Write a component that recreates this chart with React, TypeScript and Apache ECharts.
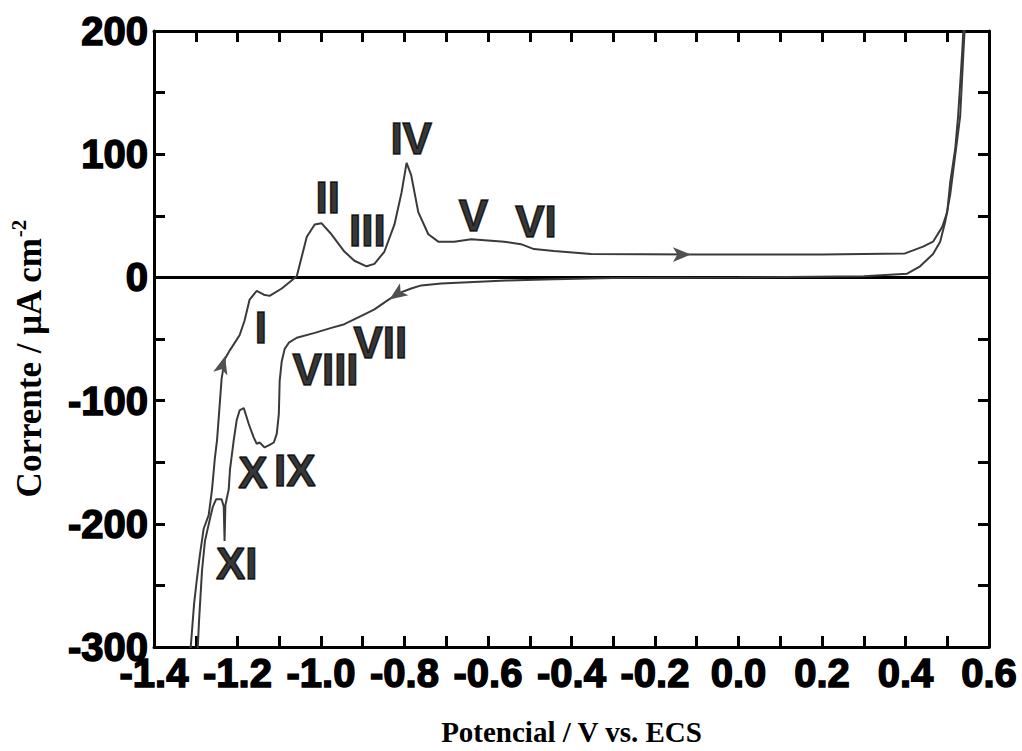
import React, { useEffect, useRef } from "react";
import * as echarts from "echarts";

// Potential axis (V vs. ECS) and current axis (µA cm⁻²) tick values
const potentialTicks = [-1.4, -1.2, -1.0, -0.8, -0.6, -0.4, -0.2, 0.0, 0.2, 0.4, 0.6];
const currentTicks = [-300, -200, -100, 0, 100, 200];

// Anodic sweep: from the cathodic limit up to the anodic limit
const anodicSweep: [number, number][] = [
  [-1.316, -310], [-1.312, -300], [-1.304, -265], [-1.297, -244], [-1.29, -225],
  [-1.281, -204], [-1.269, -193], [-1.261, -172], [-1.254, -146], [-1.249, -132],
  [-1.245, -114], [-1.238, -82], [-1.23, -66], [-1.218, -59], [-1.195, -47],
  [-1.183, -35], [-1.171, -18], [-1.154, -11], [-1.137, -14], [-1.123, -15],
  [-1.094, -9], [-1.058, 1], [-1.046, 17], [-1.034, 33], [-1.015, 43],
  [-0.999, 44], [-0.975, 35], [-0.944, 21], [-0.92, 13.5], [-0.891, 9],
  [-0.872, 11], [-0.848, 21], [-0.824, 43], [-0.807, 69], [-0.795, 93],
  [-0.784, 83], [-0.767, 53], [-0.743, 35], [-0.719, 29], [-0.681, 29],
  [-0.64, 31], [-0.6, 30], [-0.561, 29], [-0.521, 27], [-0.49, 23],
  [-0.442, 21.5], [-0.353, 19], [-0.1, 18.5], [0.2, 18.5], [0.399, 19.5],
  [0.442, 25], [0.466, 29], [0.488, 41], [0.5, 53], [0.507, 77],
  [0.519, 104], [0.526, 131], [0.531, 157], [0.536, 184], [0.54, 210],
];

// Cathodic (return) sweep: from the anodic limit back down
const cathodicSweep: [number, number][] = [
  [0.543, 210], [0.538, 178], [0.531, 131], [0.519, 99], [0.507, 67],
  [0.495, 45], [0.483, 29], [0.466, 19], [0.435, 9], [0.404, 3],
  [0.3, 1], [0.0, 0], [-0.3, -0.5], [-0.442, -1.5], [-0.557, -2.5],
  [-0.712, -5], [-0.76, -6.5], [-0.784, -9], [-0.815, -13], [-0.838, -18],
  [-0.872, -26], [-0.896, -30], [-0.944, -38], [-0.975, -41], [-1.015, -45],
  [-1.058, -49], [-1.077, -53], [-1.087, -58], [-1.094, -68], [-1.099, -84],
  [-1.101, -111], [-1.106, -127], [-1.113, -134], [-1.123, -136], [-1.135, -138],
  [-1.147, -134], [-1.154, -135], [-1.161, -130], [-1.173, -119], [-1.185, -106],
  [-1.195, -108], [-1.202, -116], [-1.209, -132], [-1.218, -156], [-1.221, -172],
  [-1.226, -180], [-1.229, -185], [-1.231, -214], [-1.233, -186], [-1.238, -180],
  [-1.251, -180], [-1.259, -186], [-1.266, -196], [-1.278, -214], [-1.285, -238],
  [-1.292, -278], [-1.295, -299], [-1.297, -310],
];

// Roman-numeral peak labels, anchored in data units
const peakLabels = [
  { name: "I", at: [-1.144, -41] },
  { name: "II", at: [-0.984, 65] },
  { name: "III", at: [-0.889, 38] },
  { name: "IV", at: [-0.784, 113] },
  { name: "V", at: [-0.635, 50] },
  { name: "VI", at: [-0.485, 45] },
  { name: "VII", at: [-0.858, -53] },
  { name: "VIII", at: [-0.989, -75] },
  { name: "IX", at: [-1.063, -157] },
  { name: "X", at: [-1.163, -158] },
  { name: "XI", at: [-1.202, -232] },
];

// Sweep-direction arrowheads
const anodicArrows = [
  { at: [-1.23, -64], rotate: -15 },
  { at: [-0.114, 18.5], rotate: -90 },
];
const cathodicArrows = [{ at: [-0.836, -18], rotate: 125 }];

const CURVE = "#3a3a3a";
const ARROW = "#505050";
const SERIF = "'Liberation Serif', 'Times New Roman', serif";
const SANS = "'Liberation Sans', Arial, sans-serif";

export default function App() {
  const ref = useRef<HTMLDivElement>(null);

  useEffect(() => {
    if (!ref.current) return;
    const chart = echarts.init(ref.current, undefined, { renderer: "svg" });

    const tickLabelFont = {
      fontFamily: SANS,
      fontWeight: "bold" as const,
      fontSize: 40,
      color: "#000",
      textBorderColor: "#000",
      textBorderWidth: 1.5,
    };
    // Closed frame: every side carries inward major and minor ticks
    const frameLine = () => ({ show: true, onZero: false, lineStyle: { color: "#000", width: 3 } });
    const ticks = () => ({ show: true, inside: true, length: 11, lineStyle: { color: "#000", width: 3 } });
    const minor = () => ({ show: true, splitNumber: 2, length: 11, lineStyle: { color: "#000", width: 3 } });

    const xAxisCommon = (position: "top" | "bottom") => ({
      type: "value" as const,
      position,
      min: potentialTicks[0],
      max: potentialTicks[potentialTicks.length - 1],
      interval: 0.2,
      axisLine: frameLine(),
      axisTick: ticks(),
      minorTick: minor(),
      splitLine: { show: false },
      minorSplitLine: { show: false },
    });
    const yAxisCommon = (position: "left" | "right") => ({
      type: "value" as const,
      position,
      min: currentTicks[0],
      max: currentTicks[currentTicks.length - 1],
      interval: 100,
      axisLine: frameLine(),
      axisTick: ticks(),
      minorTick: minor(),
      splitLine: { show: false },
      minorSplitLine: { show: false },
    });

    const arrowPoints = (list: { at: number[]; rotate: number }[]) =>
      list.map((a) => ({
        coord: a.at,
        symbol: "arrow",
        symbolSize: [11, 18],
        symbolRotate: a.rotate,
      }));

    chart.setOption({
      animation: false,
      backgroundColor: "#fff",
      grid: { left: 152, right: 33, top: 31, bottom: 91, containLabel: false },
      xAxis: [
        {
          ...xAxisCommon("bottom"),
          axisLabel: { ...tickLabelFont, margin: 6, formatter: (v: number) => v.toFixed(1) },
          name: "Potencial / V vs. ECS",
          nameLocation: "middle",
          nameGap: 70,
          nameTextStyle: { fontFamily: SERIF, fontWeight: "bold", fontSize: 29, color: "#000" },
        },
        { ...xAxisCommon("top"), axisLabel: { show: false } },
      ],
      yAxis: [
        {
          ...yAxisCommon("left"),
          axisLabel: { ...tickLabelFont, margin: 6, formatter: (v: number) => String(v) },
          name: "Corrente / μA cm{sup|-2}",
          nameLocation: "middle",
          nameGap: 104,
          nameTextStyle: {
            fontFamily: SERIF,
            fontWeight: "bold",
            fontSize: 35,
            color: "#000",
            lineHeight: 42,
            padding: [0, 40, 0, 0],
            rich: {
              sup: {
                fontFamily: SERIF,
                fontWeight: "bold",
                fontSize: 21,
                lineHeight: 21,
                verticalAlign: "top",
                color: "#000",
              },
            },
          },
        },
        { ...yAxisCommon("right"), axisLabel: { show: false } },
      ],
      series: [
        {
          type: "line",
          name: "anodic",
          data: anodicSweep,
          showSymbol: false,
          symbol: "none",
          lineStyle: { color: CURVE, width: 2 },
          z: 3,
          markLine: {
            silent: true,
            symbol: "none",
            label: { show: false },
            lineStyle: { color: "#000", width: 3, type: "solid" },
            data: [{ yAxis: 0 }],
            z: 2,
          },
          markPoint: {
            silent: true,
            label: { show: false },
            itemStyle: { color: ARROW },
            data: arrowPoints(anodicArrows),
          },
        },
        {
          type: "line",
          name: "cathodic",
          data: cathodicSweep,
          showSymbol: false,
          symbol: "none",
          lineStyle: { color: CURVE, width: 2 },
          z: 3,
          markPoint: {
            silent: true,
            label: { show: false },
            itemStyle: { color: ARROW },
            data: arrowPoints(cathodicArrows),
          },
        },
        {
          type: "scatter",
          name: "peaks",
          silent: true,
          symbolSize: 1,
          itemStyle: { color: "rgba(0,0,0,0)" },
          z: 5,
          data: peakLabels.map((p) => ({ name: p.name, value: p.at })),
          label: {
            show: true,
            position: "inside",
            formatter: "{b}",
            fontFamily: SANS,
            fontWeight: "bold",
            fontSize: 44,
            color: "#000",
            textBorderColor: "#000",
            textBorderWidth: 1.5,
          },
        },
      ],
    });

    return () => chart.dispose();
  }, []);

  return (
    <div
      ref={ref}
      style={{ position: "absolute", left: 0, top: 0, width: 1022, height: 751, background: "#fff" }}
    />
  );
}
